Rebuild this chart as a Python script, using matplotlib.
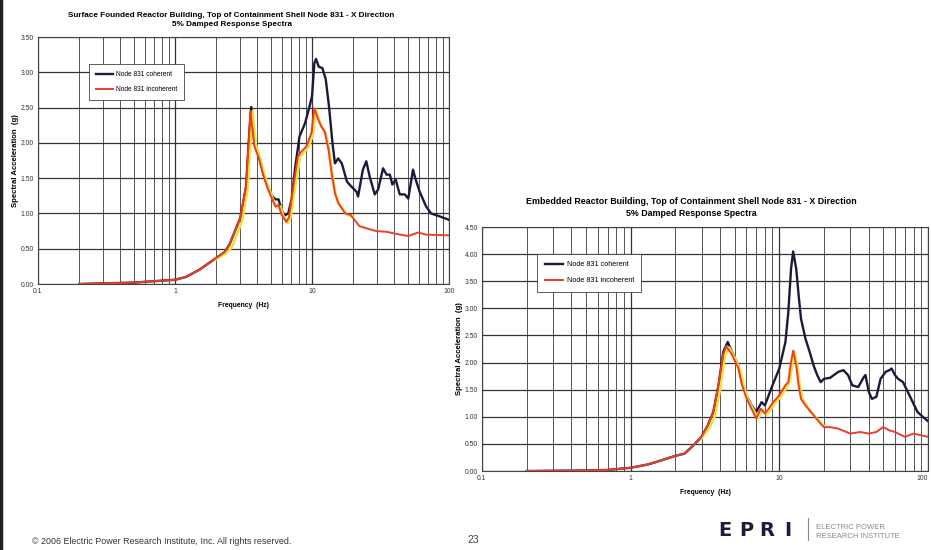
import matplotlib.pyplot as plt
from matplotlib.ticker import FixedLocator, NullFormatter

plt.rcParams['font.family'] = ['Liberation Sans', 'DejaVu Sans']

# --- Surface founded reactor building ---
sf_freq_coh = [0.2, 0.3, 0.5, 0.7, 1.0, 1.2, 1.5, 2.0, 2.3, 2.5, 3.0, 3.3, 3.5, 3.6, 3.8, 4.1, 4.4,
               4.7, 5.0, 5.4, 5.7, 6.0, 6.3, 6.7, 7.1, 7.5, 8.1, 8.9, 9.6, 10.0, 10.4, 10.7, 11.2,
               11.9, 12.6, 13.3, 14.1, 14.7, 15.5, 16.5, 18.0, 19.4, 21.1, 21.7, 23.5, 24.9, 26.3,
               28.7, 30.4, 33.0, 35.0, 37.0, 38.6, 40.8, 43.7, 47.6, 50.4, 54.6, 56.7, 61.0, 68.0,
               74.0, 85.0, 100.0]
sf_coh = [0.0, 0.01, 0.02, 0.04, 0.06, 0.10, 0.20, 0.37, 0.45, 0.56, 0.94, 1.38, 2.2, 2.51, 2.0,
          1.81, 1.57, 1.41, 1.27, 1.2, 1.2, 1.05, 0.97, 1.0, 1.2, 1.62, 2.09, 2.28, 2.52, 2.66,
          3.13, 3.19, 3.08, 3.06, 2.9, 2.52, 2.0, 1.71, 1.78, 1.71, 1.45, 1.38, 1.31, 1.24, 1.62,
          1.74, 1.53, 1.27, 1.34, 1.64, 1.55, 1.55, 1.41, 1.48, 1.27, 1.27, 1.21, 1.62, 1.5, 1.31,
          1.1, 1.0, 0.96, 0.91]

sf_freq_inc = [0.2, 0.3, 0.5, 0.7, 1.0, 1.2, 1.5, 2.0, 2.3, 2.5, 3.0, 3.3, 3.5, 3.55, 3.8, 4.1,
               4.4, 4.7, 5.0, 5.4, 5.7, 6.0, 6.5, 6.8, 7.3, 7.9, 8.4, 9.1, 9.9, 10.4, 11.1, 11.7,
               12.4, 13.2, 13.9, 14.7, 15.5, 17.5, 19.1, 22.2, 24.9, 29.4, 35.0, 41.3, 50.4, 59.5,
               68.0, 100.0]
sf_inc = [0.0, 0.01, 0.02, 0.04, 0.06, 0.10, 0.20, 0.37, 0.45, 0.56, 0.94, 1.38, 2.2, 2.45, 1.95,
          1.78, 1.55, 1.38, 1.25, 1.1, 1.12, 0.98, 0.88, 0.95, 1.38, 1.81, 1.88, 1.95, 2.14, 2.49,
          2.33, 2.23, 2.16, 1.9, 1.57, 1.29, 1.15, 1.0, 0.98, 0.82, 0.79, 0.75, 0.74, 0.71, 0.68,
          0.73, 0.70, 0.69]

sf_freq_yel = [2.0, 2.4, 2.6, 3.1, 3.4, 3.6, 3.7, 3.9, 4.2, 4.5, 4.8, 5.1, 5.5, 5.9, 6.2, 6.7,
               7.0, 7.5, 8.2, 8.7, 9.4, 10.2, 10.7, 11.4, 12.0, 12.7, 13.5, 14.2, 15.0, 16.0,
               18.0, 20.0]
sf_yel = [0.35, 0.45, 0.52, 0.90, 1.35, 2.15, 2.45, 1.97, 1.78, 1.55, 1.38, 1.24, 1.08, 1.1,
          0.96, 0.86, 0.95, 1.35, 1.8, 1.86, 1.94, 2.12, 2.47, 2.3, 2.2, 2.12, 1.85, 1.52, 1.25,
          1.12, 0.98, 0.96]

# --- Embedded reactor building ---
eb_freq_coh = [0.2, 0.5, 0.7, 1.0, 1.3, 1.5, 2.0, 2.3, 2.5, 2.7, 3.0, 3.3, 3.6, 3.9, 4.2, 4.5, 4.8,
               5.0, 5.3, 5.6, 6.0, 6.5, 7.0, 7.3, 7.6, 8.0, 8.5, 9.0, 10.0, 11.0, 11.5, 12.0, 12.4,
               13.0, 13.5, 14.0, 15.0, 16.0, 17.0, 18.0, 19.0, 20.0, 22.0, 25.0, 27.0, 29.0, 31.0,
               34.0, 37.0, 38.0, 40.0, 42.0, 45.0, 48.0, 52.0, 55.0, 57.0, 60.0, 63.0, 68.0, 75.0,
               85.0, 95.0, 100.0]
eb_coh = [0.0, 0.01, 0.02, 0.06, 0.12, 0.17, 0.28, 0.32, 0.41, 0.5, 0.63, 0.84, 1.09, 1.58, 2.2,
          2.38, 2.2, 2.1, 1.95, 1.64, 1.4, 1.21, 1.09, 1.18, 1.27, 1.21, 1.4, 1.58, 1.89, 2.38,
          2.93, 3.73, 4.05, 3.73, 3.24, 2.81, 2.44, 2.2, 1.95, 1.77, 1.64, 1.7, 1.72, 1.83, 1.86,
          1.77, 1.58, 1.55, 1.73, 1.77, 1.46, 1.33, 1.37, 1.7, 1.83, 1.86, 1.89, 1.77, 1.7, 1.64,
          1.4, 1.09, 0.97, 0.92]

eb_freq_inc = [0.2, 0.5, 0.7, 1.0, 1.3, 1.5, 2.0, 2.3, 2.5, 2.7, 3.0, 3.3, 3.6, 3.9, 4.2, 4.4,
               4.8, 5.3, 5.6, 6.0, 6.5, 7.0, 7.5, 8.0, 8.5, 9.0, 10.0, 11.0, 11.5, 12.0, 12.4,
               13.0, 13.5, 14.0, 15.0, 17.0, 19.0, 20.0, 22.0, 25.0, 30.0, 35.0, 40.0, 45.0,
               50.0, 55.0, 60.0, 70.0, 80.0, 90.0, 100.0]
eb_inc = [0.0, 0.01, 0.02, 0.06, 0.12, 0.17, 0.28, 0.32, 0.41, 0.5, 0.63, 0.84, 1.09, 1.58, 2.15,
          2.3, 2.15, 1.9, 1.6, 1.35, 1.15, 0.97, 1.15, 1.06, 1.15, 1.25, 1.4, 1.58, 1.64, 2.01,
          2.22, 1.95, 1.58, 1.33, 1.21, 1.03, 0.87, 0.81, 0.81, 0.78, 0.69, 0.72, 0.69, 0.72,
          0.81, 0.75, 0.72, 0.63, 0.69, 0.66, 0.63]

eb_freq_yel = [3.0, 3.4, 3.7, 4.0, 4.3, 4.6, 5.0, 5.5, 5.8, 6.2, 6.8, 7.2, 7.7, 8.3, 8.8, 9.3,
               10.3, 11.3, 11.8, 12.3, 12.7, 13.3, 13.8, 14.4, 15.5, 17.5, 20.0]
eb_yel = [0.6, 0.8, 1.02, 1.5, 2.1, 2.28, 2.1, 1.85, 1.55, 1.3, 1.1, 0.97, 1.13, 1.04, 1.14, 1.24,
          1.38, 1.56, 1.65, 2.02, 2.2, 1.92, 1.56, 1.32, 1.18, 1.0, 0.83]

sf_title = "Surface Founded Reactor Building, Top of Containment Shell Node 831 - X Direction\n5% Damped Response Spectra"
eb_title = "Embedded Reactor Building, Top of Containment Shell Node 831 - X Direction\n5% Damped Response Spectra"
legend_labels = ["Node 831 coherent", "Node 831 incoherent"]
x_labels = ["0.1", "1", "10", "100"]

c_coh = "#1c1a3c"
c_inc = "#e8402c"
c_yel = "#f2e22e"

fig = plt.figure(figsize=(9.31, 5.5), dpi=100)
fig.patch.set_facecolor("white")


def draw_chart(ax, f_coh, v_coh, f_inc, v_inc, f_yel, v_yel, ymax, title, sc, tx):
    ax.plot(f_coh, v_coh, color=c_coh, lw=1.7, label=legend_labels[0], zorder=3)
    ax.plot(f_yel, v_yel, color=c_yel, lw=1.8, zorder=4)
    ax.plot(f_inc, v_inc, color=c_inc, lw=1.4, label=legend_labels[1], zorder=5)
    ax.set_xscale("log")
    ax.set_xlim(0.1, 100)
    ax.set_ylim(0, ymax)
    ax.set_xticks([0.1, 1, 10, 100])
    ax.set_xticklabels(x_labels)
    ax.xaxis.set_minor_locator(FixedLocator([m * d for d in (0.1, 1, 10) for m in range(2, 10)]))
    ax.xaxis.set_minor_formatter(NullFormatter())
    yt = [i * 0.5 for i in range(int(ymax / 0.5) + 1)]
    ax.set_yticks(yt)
    ax.set_yticklabels(["%.2f" % v for v in yt])
    ax.grid(True, which="major", color="#333333", lw=0.9)
    ax.grid(True, which="minor", axis="x", color="#555555", lw=0.7)
    ax.tick_params(which="both", length=0, labelsize=4.9, pad=3, colors="#333333")
    for s in ax.spines.values():
        s.set_color("#444444")
        s.set_linewidth(0.8)
    ax.set_title(title, fontsize=5.9 * sc, fontweight="bold", pad=8, linespacing=1.4, x=tx)
    ax.set_xlabel("Frequency  (Hz)", fontsize=4.9, fontweight="bold", labelpad=5)
    ax.set_ylabel("Spectral Acceleration  (g)", fontsize=5.6, fontweight="bold", labelpad=1)
    leg = ax.legend(loc="upper left", bbox_to_anchor=(0.124, 0.89), fontsize=4.8 * sc, frameon=True,
                    fancybox=False, edgecolor="#444444", framealpha=1, handlelength=2.6,
                    labelspacing=1.25, borderpad=1.0, handletextpad=0.45, borderaxespad=0)
    leg.get_frame().set_linewidth(0.6)


ax1 = fig.add_axes([0.0408, 0.4836, 0.4415, 0.449])
draw_chart(ax1, sf_freq_coh, sf_coh, sf_freq_inc, sf_inc, sf_freq_yel, sf_yel, 3.5, sf_title, 1.0, 0.471)

ax2 = fig.add_axes([0.5177, 0.1436, 0.479, 0.4436])
draw_chart(ax2, eb_freq_coh, eb_coh, eb_freq_inc, eb_inc, eb_freq_yel, eb_yel, 4.5, eb_title, 1.09, 0.469)
ax2.get_xticklabels()[-1].set_horizontalalignment("right")

# footer
fig.text(32 / 931, 1 - 541 / 550, "\u00a9 2006 Electric Power Research Institute, Inc. All rights reserved.",
         fontsize=6.4, color="#333333", va="center")
fig.text(473 / 931, 1 - 540 / 550, "23", fontsize=7.5, color="#444444", va="center", ha="center")
for i, ch in enumerate("EPRI"):
    fig.text((725 + i * 21) / 931, 1 - 531 / 550, ch, fontsize=14, fontweight="heavy", color="#1c1c3c",
             va="center", ha="center", family=["DejaVu Sans"])
fig.add_artist(plt.Line2D([808 / 931, 808 / 931], [1 - 518 / 550, 1 - 540 / 550], color="#888888", lw=0.8))
fig.text(816 / 931, 1 - 532 / 550, "ELECTRIC POWER\nRESEARCH INSTITUTE", fontsize=5.5, color="#888888",
         va="center", linespacing=1.25)
fig.add_artist(plt.Line2D([0.001, 0.001], [0, 1], color="#222222", lw=2.5))

fig.savefig("out.png", dpi=100)
